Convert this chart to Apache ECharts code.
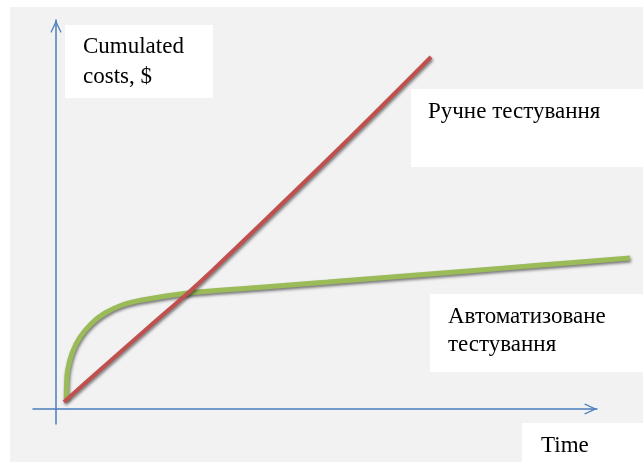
<!DOCTYPE html>
<html>
<head>
<meta charset="utf-8">
<script src="https://cdn.jsdelivr.net/npm/echarts@6/dist/echarts.min.js"></script>
<style>html,body{margin:0;padding:0;background:#fff;}#c{width:643px;height:468px;}</style>
</head>
<body>
<div id="c"></div>
<script>
// Manual testing (red): [time, cumulated cost]
var manualX = [1.48, 8.13, 17.38, 24.40, 29.02, 37.71, 48.80, 59.89, 69.32];
var manualY = [1.80, 10.03, 21.34, 29.82, 35.73, 47.30, 62.21, 77.38, 90.49];
// Automated testing (green)
var autoX = [1.9, 1.94, 2.16, 2.96, 4.44, 6.65, 9.06, 12.20, 15.90, 24.40, 37.34, 50.28, 63.22, 76.16, 89.09, 106.1];
var autoY = [2.6, 6.17, 10.03, 14.40, 18.51, 22.11, 24.68, 26.74, 28.02, 29.82, 31.23, 32.65, 34.09, 35.50, 36.94, 38.82];
var labelY = ['Cumulated', 'costs, $'];
var labelX = 'Time';
var labelManual = 'Ручне тестування';
var labelAuto = ['Автоматизоване', 'тестування'];

function pairs(xs, ys) { return xs.map(function (x, i) { return [x, ys[i]]; }); }

var chevron = 'path://M55,0 L110,118 L100,126 L55,30 L10,126 L0,118 Z';
var axisColor = '#4a7ebb';
var fontFam = 'Liberation Serif';
var fs = 23;

function txt(t, x, baseline) {
  return { type: 'text', z: 5, style: { text: t, x: x, y: baseline - 8, fill: '#000', fontSize: fs, fontFamily: fontFam, verticalAlign: 'middle', align: 'left' } };
}
function box(x, y, w, h) {
  return { type: 'rect', z: 1, shape: { x: x, y: y, width: w, height: h }, style: { fill: '#ffffff' } };
}
var axisLineStyle = { show: true, onZero: true, symbol: ['none', chevron], symbolSize: [11, 13], symbolOffset: [0, -6.5], lineStyle: { color: axisColor, width: 1.5 } };

var chart = echarts.init(document.getElementById('c'));
chart.setOption({
  animation: false,
  backgroundColor: '#ffffff',
  grid: [
    { left: 33, right: 46, top: 20, bottom: 44, containLabel: false },
    { left: 33, right: 3, top: 20, bottom: 44, containLabel: false }
  ],
  xAxis: [
    { gridIndex: 0, type: 'value', min: -4.25, max: 100, axisLine: axisLineStyle,
      axisTick: { show: false }, axisLabel: { show: false }, splitLine: { show: false } },
    { gridIndex: 1, type: 'value', min: -4.25, max: 107.95, show: false, splitLine: { show: false } }
  ],
  yAxis: [
    { gridIndex: 0, type: 'value', min: -3.85, max: 100, axisLine: axisLineStyle,
      axisTick: { show: false }, axisLabel: { show: false }, splitLine: { show: false } },
    { gridIndex: 1, type: 'value', min: -3.85, max: 100, show: false, splitLine: { show: false } }
  ],
  graphic: [
    { type: 'rect', z: -10, shape: { x: 10, y: 7, width: 633, height: 455 }, style: { fill: '#f2f2f2' } },
    box(65, 25, 148, 73),
    box(411, 89, 232, 78),
    box(430, 294, 213, 78),
    box(522, 423, 121, 39),
    txt(labelY[0], 83, 55),
    txt(labelY[1], 83, 85),
    txt(labelManual, 428, 120),
    txt(labelAuto[0], 448, 325),
    txt(labelAuto[1], 448, 353),
    txt(labelX, 541, 454)
  ],
  series: [
    {
      type: 'line', name: labelAuto.join(' '), xAxisIndex: 1, yAxisIndex: 1, data: pairs(autoX, autoY), symbol: 'none', smooth: 0.35, z: 3,
      lineStyle: { color: '#9bbb59', width: 5, shadowColor: 'rgba(0,0,0,0.5)', shadowBlur: 3, shadowOffsetX: 1, shadowOffsetY: 2 }
    },
    {
      type: 'line', name: labelManual, xAxisIndex: 1, yAxisIndex: 1, data: pairs(manualX, manualY), symbol: 'none', smooth: 0.3, z: 4,
      lineStyle: { color: '#c0504d', width: 4, shadowColor: 'rgba(0,0,0,0.5)', shadowBlur: 3, shadowOffsetX: 1, shadowOffsetY: 2 }
    }
  ]
});
</script>
</body>
</html>
